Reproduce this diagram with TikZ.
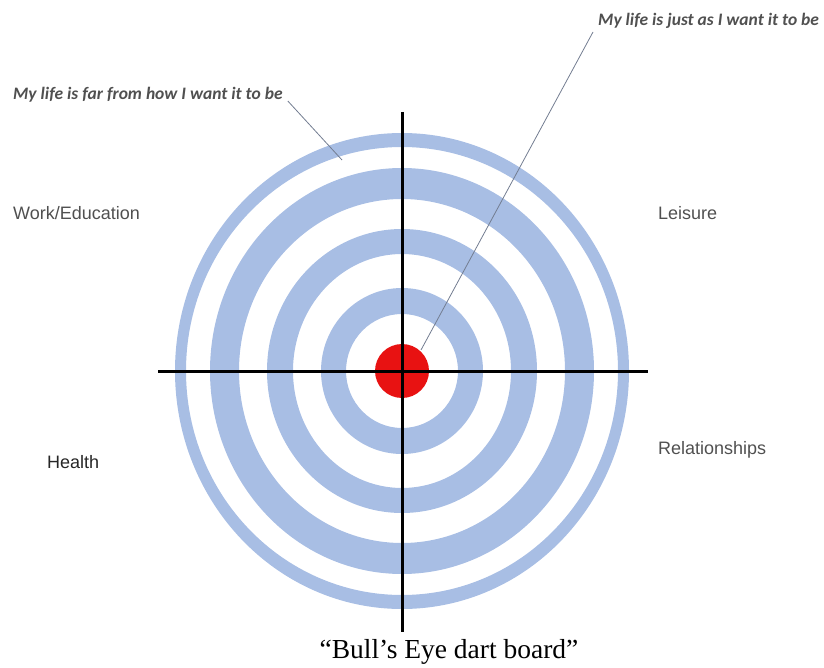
\documentclass[tikz,border=0pt]{standalone}
\usepackage{fontspec}
\setmainfont{Liberation Serif}
\setsansfont{Liberation Sans}
\newfontfamily\notefont{Carlito}
\usetikzlibrary{calc}
\definecolor{ringblue}{RGB}{168,190,228}
\definecolor{dotred}{RGB}{232,18,18}
\definecolor{labelgrey}{RGB}{80,80,80}
\definecolor{leadgrey}{RGB}{115,125,145}

\begin{document}
\begin{tikzpicture}[x=1pt,y=-1pt,
  ring/.style={fill=ringblue,even odd rule},
  axis/.style={line width=3pt},
  area/.style={font=\sffamily\fontsize{18}{18}\selectfont,text=labelgrey,inner sep=0pt},
  note/.style={font=\notefont\bfseries\itshape\fontsize{17.5}{17.5}\selectfont,text=labelgrey,inner sep=0pt},
  leader/.style={draw=leadgrey,line width=0.8pt}]
  \useasboundingbox (0,0) rectangle (824,668);
  \coordinate (O) at (402,371);
  % --- rings ---
  \foreach \a/\b/\c/\d in {216/227/224/238,163/192/172/203,109/135/117/142,56/81/57/83}
    \fill[ring] (O) ellipse[x radius=\b,y radius=\d] (O) ellipse[x radius=\a,y radius=\c];
  % --- bull's eye ---
  \fill[dotred] (O) circle (27);
  % --- axes ---
  \coordinate (W) at (158,371);
  \coordinate (E) at (648,371);
  \coordinate (N) at (402,112);
  \coordinate (S) at (402,632);
  \draw[axis] (W) -- (E);
  \draw[axis] (N) -- (S);
  % --- life areas ---
  \node[area,anchor=west] (work) at (13,213) {Work/Education};
  \node[area,anchor=west] (leisure) at (658,213) {Leisure};
  \node[area,anchor=west,text=black!85] (health) at (47,462) {Health};
  \node[area,anchor=west] (relations) at (658,450) {Relationships};
  % --- notes with leaders ---
  \node[note,anchor=west] (far) at (13,95) {My life is far from how I want it to be};
  \node[note,anchor=west] (just) at (598,21) {My life is just as I want it to be};
  \coordinate (farend) at (342,160);
  \coordinate (justend) at (421,350);
  \draw[leader] ($(far.east)+(5,6)$) -- (farend);
  \draw[leader] ($(just.west)+(-5,11)$) -- (justend);
  % caption
  \node[font=\fontsize{27.5}{27.5}\selectfont] (caption) at (449,652) {“Bull’s Eye dart board”};
\end{tikzpicture}
\end{document}
